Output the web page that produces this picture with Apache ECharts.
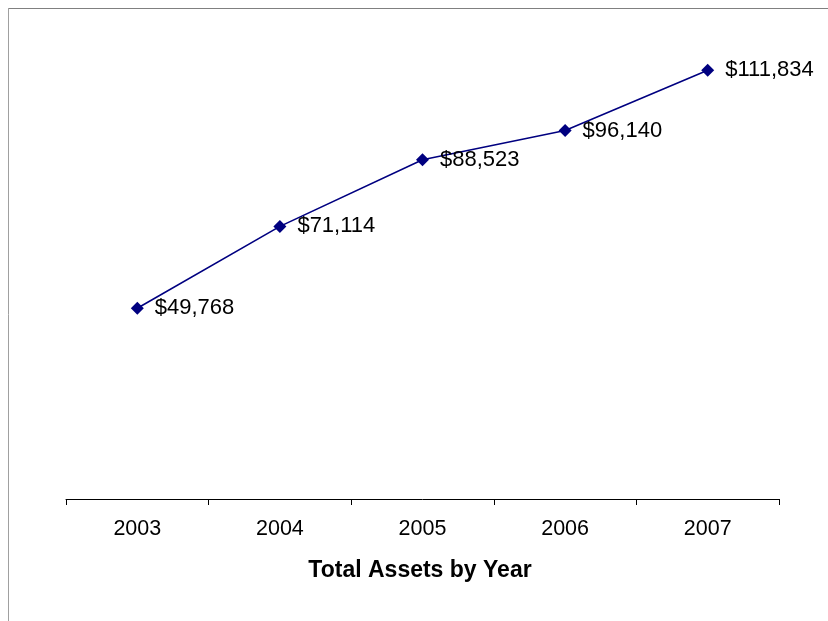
<!DOCTYPE html>
<html>
<head>
<meta charset="utf-8">
<script src="https://cdn.jsdelivr.net/npm/echarts@6/dist/echarts.min.js"></script>
<style>html,body{margin:0;padding:0;background:#fff}#c{width:828px;height:621px}</style>
</head>
<body>
<div id="c"></div>
<script>
const years = ['2003', '2004', '2005', '2006', '2007'];
const totalAssets = [49768, 71114, 88523, 96140, 111834];
const chartTitle = 'Total Assets by Year';

const chart = echarts.init(document.getElementById('c'), null, {renderer: 'canvas'});
chart.setOption({
  animation: false,
  backgroundColor: '#ffffff',
  title: {
    text: chartTitle,
    left: 415,
    top: 554,
    textAlign: 'center',
    textStyle: {fontFamily: 'Liberation Sans, Arial', fontSize: 23, fontWeight: 'bold', color: '#000'}
  },
  grid: {left: 66, right: 49, top: 39, bottom: 122, containLabel: false},
  xAxis: {
    type: 'category',
    data: years,
    boundaryGap: true,
    axisLine: {lineStyle: {color: '#000', width: 1}},
    axisTick: {show: true, length: 6, alignWithLabel: false, lineStyle: {color: '#000'}},
    axisLabel: {margin: 19, fontFamily: 'Liberation Sans, Arial', fontSize: 21.5, color: '#000'},
    splitLine: {show: false}
  },
  yAxis: {
    type: 'value',
    min: 0,
    max: 120000,
    interval: 20000,
    show: false
  },
  series: [{
    type: 'line',
    data: totalAssets,
    symbol: 'diamond',
    symbolSize: 13,
    lineStyle: {color: '#000080', width: 1.6},
    itemStyle: {color: '#000080'},
    label: {
      show: true,
      position: 'right',
      distance: 11,
      fontFamily: 'Liberation Sans, Arial',
      fontSize: 22,
      color: '#000',
      formatter: p => '$' + p.value.toLocaleString('en-US')
    }
  }],
  graphic: [
    {type: 'line', shape: {x1: 8, y1: 8.5, x2: 828, y2: 8.5}, style: {stroke: '#808080', lineWidth: 1}},
    {type: 'line', shape: {x1: 8.5, y1: 8, x2: 8.5, y2: 621}, style: {stroke: '#a0a0a0', lineWidth: 1}}
  ]
});
</script>
</body>
</html>
